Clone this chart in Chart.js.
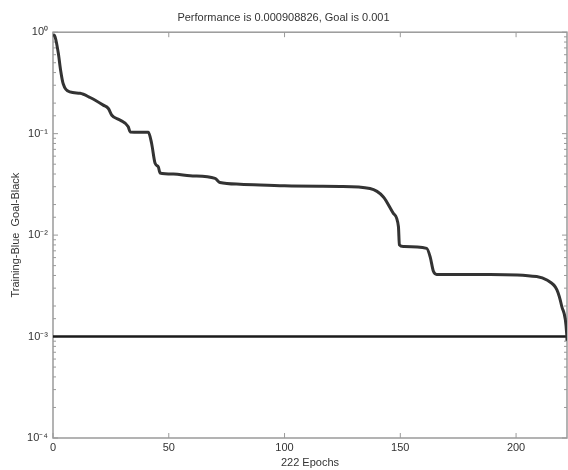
<!DOCTYPE html>
<html>
<head>
<meta charset="utf-8">
<script src="https://cdn.jsdelivr.net/npm/chart.js@4"></script>
<style>
  html, body { margin: 0; padding: 0; background: #fff; }
  #wrap { width: 568px; height: 470px; }
</style>
</head>
<body>
<div id="wrap"><canvas id="perfChart"></canvas></div>
<script>
// training performance (epoch, mse)
const epochs = [0, 0.9, 2.3, 3.3, 4.4, 7.3, 11.7, 16, 21.7, 23.9, 25.4, 28.9, 32.5, 33.3, 37.6, 41.2,
  42.6, 44.1, 45.5, 46.2, 52, 59.2, 70, 72.1, 80.8, 100, 115, 124, 136.9, 142.7, 147, 149.2, 149.6,
  151.3, 161.4, 162.9, 164.3, 165.7, 188.8, 208.9, 213.3, 217.6, 219.7, 221.9, 222];
const perf = [0.95, 0.9, 0.62, 0.42, 0.31, 0.258, 0.25, 0.227, 0.191, 0.177, 0.152, 0.136, 0.117, 0.104, 0.103, 0.103,
  0.08, 0.051, 0.047, 0.041, 0.04, 0.0384, 0.0362, 0.033, 0.0318, 0.0306, 0.0303, 0.0302, 0.0288, 0.0238, 0.0164, 0.0121, 0.008,
  0.0077, 0.0074, 0.0061, 0.0044, 0.0041, 0.0041, 0.0039, 0.0036, 0.0029, 0.002, 0.00104, 0.000908826];
const goal = 0.001;
const goalX = [0, 222];
const xTicks = [0, 50, 100, 150, 200];
const yMajor = [1e-4, 1e-3, 1e-2, 1e-1, 1];
const yLabels = ['10\u207B\u2074', '10\u207B\u00B3', '10\u207B\u00B2', '10\u207B\u00B9', '10\u2070'];

const FONT = 'Arial, "Liberation Sans", sans-serif';
const AXIS = '#9a9a9a';

// MATLAB style box with inward ticks
const boxTicks = {
  id: 'boxTicks',
  beforeDatasetsDraw(chart) {
    const { ctx, chartArea: a, scales: { x, y } } = chart;
    ctx.save();
    ctx.strokeStyle = AXIS;
    ctx.lineWidth = 1.5;
    ctx.strokeRect(a.left, a.top, a.right - a.left, a.bottom - a.top);
    ctx.lineWidth = 1;
    x.ticks.forEach(t => {
      const px = x.getPixelForValue(t.value);
      ctx.beginPath();
      ctx.moveTo(px, a.bottom); ctx.lineTo(px, a.bottom - 5);
      ctx.moveTo(px, a.top); ctx.lineTo(px, a.top + 5);
      ctx.stroke();
    });
    y.ticks.forEach(t => {
      const py = y.getPixelForValue(t.value);
      const len = yMajor.includes(t.value) ? 5 : 3;
      ctx.beginPath();
      ctx.moveTo(a.left, py); ctx.lineTo(a.left + len, py);
      ctx.moveTo(a.right, py); ctx.lineTo(a.right - len, py);
      ctx.stroke();
    });
    ctx.restore();
  }
};

new Chart(document.getElementById('perfChart'), {
  type: 'line',
  data: {
    datasets: [{
      label: 'Training',
      data: epochs.map((e, i) => ({ x: e, y: perf[i] })),
      borderColor: '#333',
      borderWidth: 3,
      pointRadius: 0,
      cubicInterpolationMode: 'monotone'
    }, {
      label: 'Goal',
      data: goalX.map(e => ({ x: e, y: goal })),
      borderColor: '#1a1a1a',
      borderWidth: 2.5,
      pointRadius: 0
    }]
  },
  options: {
    responsive: true,
    maintainAspectRatio: false,
    animation: false,
    layout: { padding: { right: 1 } },
    plugins: {
      legend: { display: false },
      tooltip: { enabled: false },
      title: {
        display: true,
        text: 'Performance is 0.000908826, Goal is 0.001',
        color: '#333',
        font: { family: FONT, size: 11, weight: 'normal' },
        padding: { top: 11, bottom: 8 }
      }
    },
    scales: {
      x: {
        type: 'linear',
        min: 0,
        max: 222,
        afterBuildTicks: s => { s.ticks = xTicks.map(v => ({ value: v })); },
        afterFit: s => { s.height = 32; },
        grid: { display: false, drawTicks: false },
        border: { display: false },
        ticks: { color: '#333', padding: 3, maxRotation: 0, font: { family: FONT, size: 11 } },
        title: { display: true, text: '222 Epochs', color: '#333', padding: 0, font: { family: FONT, size: 11 } }
      },
      y: {
        type: 'logarithmic',
        min: 1e-4,
        max: 1,
        afterFit: s => { s.width = 53; },
        grid: { display: false, drawTicks: false },
        border: { display: false },
        ticks: {
          color: '#333',
          padding: 5,
          autoSkip: false,
          font: { family: FONT, size: 11 },
          callback: v => {
            const i = yMajor.findIndex(m => Math.abs(m - v) < m * 1e-6);
            return i >= 0 ? yLabels[i] : '';
          }
        },
        title: { display: true, text: 'Training-Blue  Goal-Black', color: '#333', padding: { top: 9 }, font: { family: FONT, size: 11 } }
      }
    }
  },
  plugins: [boxTicks]
});
</script>
</body>
</html>
